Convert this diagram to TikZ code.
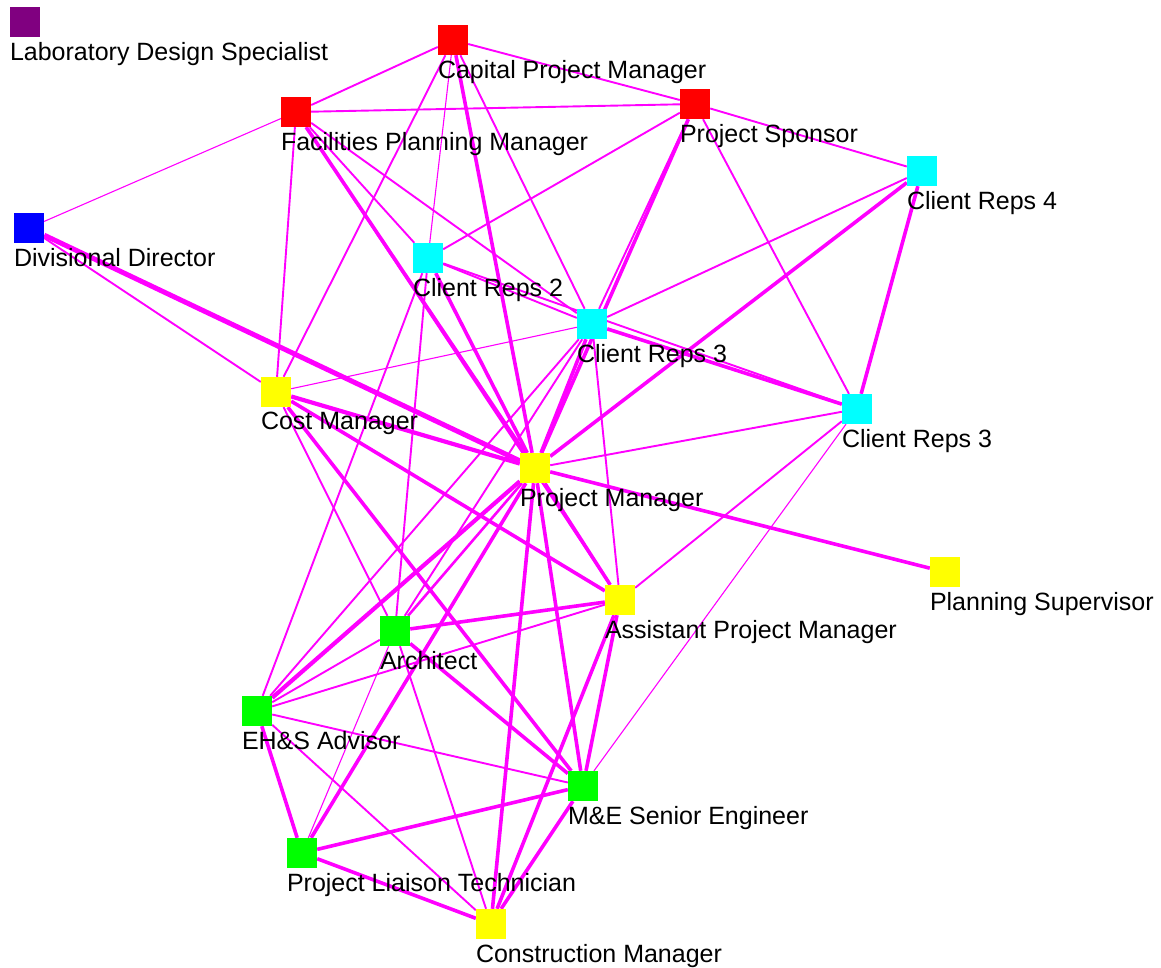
\documentclass[tikz,border=0pt]{standalone}
\usepackage{fontspec}
\setmainfont{Liberation Sans}
\usetikzlibrary{backgrounds}

\definecolor{tiepink}{RGB}{255,0,255}
\definecolor{labpurple}{RGB}{128,0,128}
\definecolor{repcyan}{RGB}{0,255,255}
\definecolor{ownred}{RGB}{255,0,0}
\definecolor{mgryellow}{RGB}{255,255,0}
\definecolor{dsngreen}{RGB}{0,255,0}
\definecolor{dirblue}{RGB}{0,0,255}
\tikzset{
    role/.style={rectangle, inner sep=0pt, minimum size=30pt},
    lbl/.style={anchor=north west, inner sep=0pt, yshift=-5pt, font=\fontsize{25}{30}\selectfont},
    weak/.style={tiepink, line width=1.1pt},
    tie/.style={tiepink, line width=1.9pt},
    strong/.style={tiepink, line width=3.6pt},
}

\begin{document}
\begin{tikzpicture}[x=1pt, y=-1pt]
    \useasboundingbox (0,0) rectangle (1161,967);

    \node[role, fill=labpurple, label={[lbl]south west:Laboratory Design Specialist}] (lds) at (25,22) {};
    \node[role, fill=ownred, label={[lbl]south west:Capital Project Manager}] (cpm) at (453,40) {};
    \node[role, fill=ownred, label={[lbl]south west:Facilities Planning Manager}] (fpm) at (296,112) {};
    \node[role, fill=ownred, label={[lbl]south west:Project Sponsor}] (ps) at (695,104) {};
    \node[role, fill=repcyan, label={[lbl]south west:Client Reps 4}] (cr4) at (922,171) {};
    \node[role, fill=dirblue, label={[lbl]south west:Divisional Director}] (dd) at (29,228) {};
    \node[role, fill=repcyan, label={[lbl]south west:Client Reps 2}] (cr2) at (428,258) {};
    \node[role, fill=repcyan, label={[lbl]south west:Client Reps 3}] (cr3a) at (592,324) {};
    \node[role, fill=repcyan, label={[lbl]south west:Client Reps 3}] (cr3b) at (857,409) {};
    \node[role, fill=mgryellow, label={[lbl]south west:Cost Manager}] (cost) at (276,392) {};
    \node[role, fill=mgryellow, label={[lbl]south west:Project Manager}] (pm) at (535,468) {};
    \node[role, fill=mgryellow, label={[lbl]south west:Planning Supervisor}] (plsup) at (945,572) {};
    \node[role, fill=mgryellow, label={[lbl]south west:Assistant Project Manager}] (apm) at (620,600) {};
    \node[role, fill=dsngreen, label={[lbl]south west:Architect}] (arch) at (395,631) {};
    \node[role, fill=dsngreen, label={[lbl]south west:EH\&S Advisor}] (ehs) at (257,711) {};
    \node[role, fill=dsngreen, label={[lbl]south west:M\&E Senior Engineer}] (mae) at (583,786) {};
    \node[role, fill=dsngreen, label={[lbl]south west:Project Liaison Technician}] (plt) at (302,853) {};
    \node[role, fill=mgryellow, label={[lbl]south west:Construction Manager}] (conm) at (491,924) {};

    \begin{scope}[on background layer]
    \fill[white] (0,0) rectangle (1161,967);

    \draw[weak] (dd) -- (fpm);
    \draw[weak] (cpm) -- (cr2);
    \draw[weak] (plt) -- (arch);
    \draw[weak] (cr3b) -- (mae);
    \draw[weak] (cost) -- (cr3a);

    \draw[tie] (fpm) -- (cpm) -- (ps) -- (fpm);
    \draw[tie] (ps) -- (cr2);
    \draw[tie] (ps) -- (cr4);
    \draw[tie] (ps) -- (cr3b);
    \draw[tie] (ps) -- (cr3a);
    \draw[tie] (cr4) -- (cr3a);
    \draw[tie] (cpm) -- (cost);
    \draw[tie] (cpm) -- (cr3a);
    \draw[tie] (fpm) -- (cost);
    \draw[tie] (fpm) -- (cr2);
    \draw[tie] (fpm) -- (cr3a);
    \draw[tie] (fpm) -- (apm);
    \draw[tie] (dd) -- (cost);
    \draw[tie] (cr2) -- (ehs);
    \draw[tie] (cr2) -- (arch);
    \draw[tie] (cr2) -- (cr3a);
    \draw[tie] (cr2) -- (cr3b);
    \draw[tie] (cr3a) -- (apm);
    \draw[tie] (cr3a) -- (ehs);
    \draw[tie] (cr3a) -- (arch);
    \draw[tie] (cr3b) -- (pm);
    \draw[tie] (cr3b) -- (apm);
    \draw[tie] (cost) -- (arch);
    \draw[tie] (ehs) -- (arch);
    \draw[tie] (ehs) -- (apm);
    \draw[tie] (ehs) -- (mae);
    \draw[tie] (ehs) -- (conm);
    \draw[tie] (arch) -- (conm);
    \draw[tiepink, line width=2.6pt] (arch) -- (pm);

    \draw[tiepink, line width=5pt] (dd) -- (pm);
    \draw[strong] (fpm) -- (pm);
    \draw[strong] (cpm) -- (pm);
    \draw[strong] (cr2) -- (pm);
    \draw[strong] (cr3a) -- (pm);
    \draw[strong] (ps) -- (pm);
    \draw[strong] (cr4) -- (pm);
    \draw[strong] (cr4) -- (cr3b);
    \draw[strong] (cr3a) -- (cr3b);
    \draw[tiepink, line width=4.2pt] (cost) -- (pm);
    \draw[strong] (cost) -- (apm);
    \draw[strong] (cost) -- (mae);
    \draw[strong] (pm) -- (plsup);
    \draw[strong] (pm) -- (apm);
    \draw[strong] (pm) -- (mae);
    \draw[strong] (pm) -- (conm);
    \draw[strong] (pm) -- (plt);
    \draw[tiepink, line width=4.2pt] (pm) -- (ehs);
    \draw[strong] (arch) -- (apm);
    \draw[strong] (arch) -- (mae);
    \draw[strong] (apm) -- (mae);
    \draw[strong] (apm) -- (conm);
    \draw[strong] (mae) -- (conm);
    \draw[strong] (mae) -- (plt);
    \draw[strong] (plt) -- (conm);
    \draw[strong] (ehs) -- (plt);
    \end{scope}
\end{tikzpicture}
\end{document}
